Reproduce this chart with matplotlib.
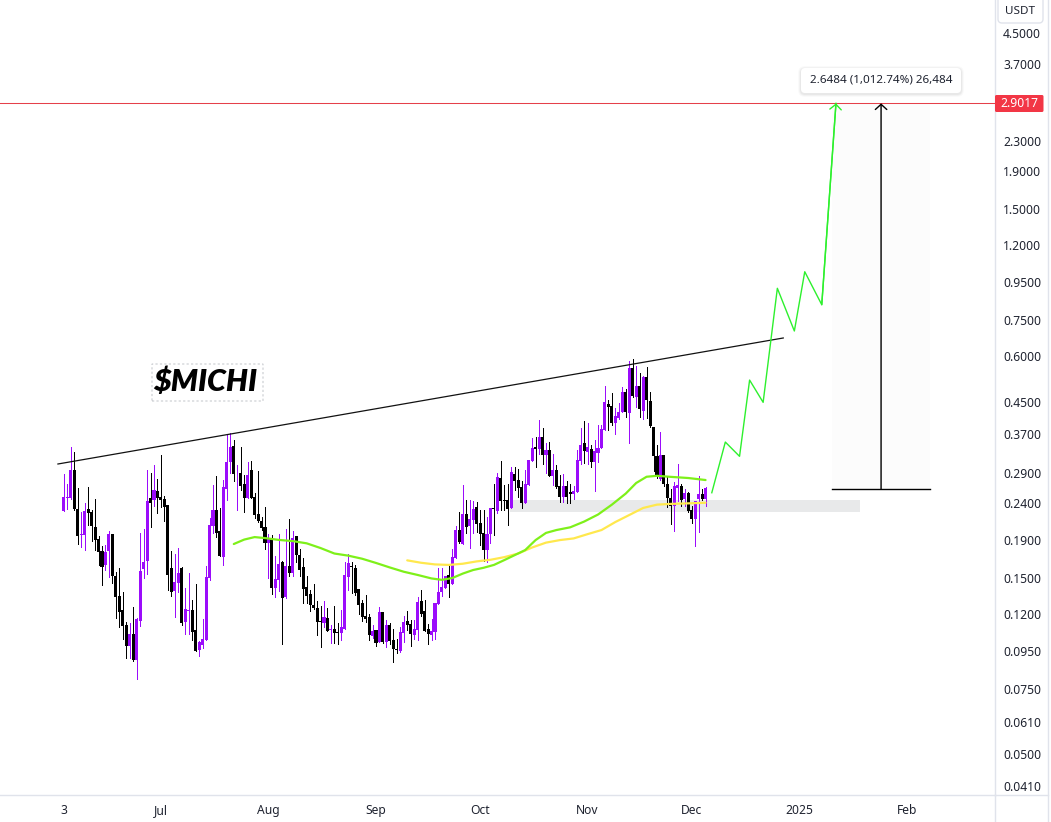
import numpy as np
import pandas as pd
import matplotlib
matplotlib.use("Agg")
import matplotlib.pyplot as plt
from matplotlib.lines import Line2D
from matplotlib.patches import FancyBboxPatch, Rectangle
from matplotlib.ticker import NullLocator

plt.rcParams['font.family'] = ['Noto Sans', 'DejaVu Sans']

W, H = 1051, 822

# daily candles, first one is 3 Jun 2024
start = pd.Timestamp("2024-06-03")

opens = [
    .2285, .2475, .2475, .2946, .2306, .1964, .1964, .2310, .2263, .2065,
    .1911, .1777, .1630, .1780, .1975, .1521, .1343, .1230, .1121, .0983,
    .1060, .0900, .1151, .1589, .1670, .2475, .2443, .2584, .2485, .2459,
    .2368, .1599, .1385, .1456, .1599, .1142, .1225, .1230, .1086, .0958,
    .0989, .1022, .1502, .2082, .2295, .2014, .1714, .2622, .3097, .3423,
    .2887, .2892, .2702, .2475, .2946, .2491, .2239, .2143, .2061, .1868,
    .1915, .1414, .1486, .1660, .1337, .1619, .1550, .1951, .1733, .1609,
    .1420, .1359, .1270, .1246, .1149, .1135, .1171, .1084, .1093, .1073,
    .1066, .1093, .1512, .1619, .1599, .1401, .1285, .1186, .1178, .1048,
    .1086, .1009, .1215, .1008, .1121, .1020, .0964, .0952, .1068, .1149,
    .1128, .1053, .1086, .1301, .1223, .1093, .1053, .1073, .1277, .1376,
    .1411, .1531, .1447, .1702, .2026, .1857, .2239, .2078, .2156, .2340,
    .2117, .1990, .1788, .1975, .2325, .2281, .2802, .2443, .2443, .2325,
    .2874, .2768, .2651, .2398, .2690, .3121, .3401, .3358, .3620, .3230,
    .3337, .2838, .2946, .2668, .2491, .2668, .2568, .2536, .2568, .3116,
    .3486, .3297, .3358, .3097, .3277, .3380, .3780, .4446, .4390, .3943,
    .4075, .4230, .4793, .4212, .5563, .4652, .4974, .4264, .5253, .4530,
    .3853, .3216, .2791, .3230, .2702, .2475, .2353, .2634, .2668, .2459,
    .2552, .2295, .2170, .2459, .2536, .2459,
]
closes = [
    .2485, .2491, .2946, .2306, .1955, .1972, .2281, .2257, .2078, .1903,
    .1769, .1613, .1766, .1975, .1524, .1337, .1217, .1114, .0983, .1060,
    .0900, .1163, .1569, .1660, .2428, .2398, .2600, .2480, .2443, .2340,
    .1531, .1376, .1462, .1550, .1137, .1238, .1232, .1075, .0952, .1009,
    .1025, .1512, .2091, .2295, .1994, .1722, .2651, .3103, .3401, .2874,
    .2892, .2673, .2475, .2856, .2480, .2229, .2147, .2056, .1868, .1931,
    .1414, .1490, .1640, .1328, .1619, .1547, .1927, .1733, .1579, .1405,
    .1343, .1270, .1246, .1144, .1142, .1178, .1081, .1093, .1066, .1066,
    .1107, .1531, .1650, .1606, .1368, .1270, .1178, .1165, .1055, .1079,
    .1003, .1215, .1008, .1121, .1014, .0964, .0958, .1073, .1142, .1121,
    .1060, .1093, .1293, .1200, .1079, .1060, .1079, .1285, .1376, .1420,
    .1521, .1447, .1713, .2026, .1877, .2239, .2065, .2170, .2310, .2104,
    .1975, .1788, .1975, .2325, .2306, .2816, .2432, .2428, .2315, .2910,
    .2751, .2634, .2398, .2702, .3135, .3380, .3358, .3620, .3236, .3337,
    .2838, .2946, .2651, .2491, .2668, .2491, .2536, .2584, .3135, .3444,
    .3317, .3401, .3097, .3317, .3380, .3804, .4502, .4356, .3951, .4127,
    .4230, .4793, .4230, .5563, .4674, .4974, .4310, .5273, .4558, .3878,
    .3216, .2838, .3230, .2702, .2475, .2353, .2668, .2684, .2443, .2552,
    .2281, .2170, .2428, .2536, .2459, .2634,
]
highs = [
    .2874, .2702, .3391, .3291, .2629, .2263, .2393, .2646, .2295, .2454,
    .1947, .1834, .1845, .2010, .1975, .1563, .1596, .1374, .1140, .1133,
    .1254, .1169, .1988, .2035, .2946, .2892, .3040, .2781, .3236, .2507,
    .2368, .1777, .1744, .1811, .1609, .1408, .1550, .1307, .1447, .1014,
    .1163, .1619, .2184, .2684, .2838, .2320, .2768, .3688, .3704, .3552,
    .3040, .3401, .2856, .3097, .3116, .2547, .2928, .2194, .2336, .1975,
    .1964, .1722, .1975, .1667, .2039, .2170, .2010, .1958, .1796, .1702,
    .1521, .1393, .1447, .1301, .1262, .1301, .1246, .1119, .1262, .1135,
    .1230, .1660, .1744, .1660, .1630, .1401, .1309, .1351, .1200, .1121,
    .1086, .1254, .1215, .1156, .1137, .1093, .1027, .1109, .1186, .1223,
    .1156, .1156, .1334, .1390, .1309, .1128, .1163, .1285, .1599, .1599,
    .1521, .1640, .1799, .2078, .2267, .2684, .2443, .2443, .2428, .2413,
    .2295, .2295, .2198, .2325, .2702, .2887, .3116, .2684, .2695, .2994,
    .2994, .2959, .2756, .2946, .3135, .3590, .3612, .4023, .3826, .3486,
    .3508, .3257, .3040, .2856, .2874, .2751, .2702, .2668, .3337, .3826,
    .3999, .3951, .3444, .3552, .3900, .3900, .4968, .4558, .4764, .4345,
    .4474, .4954, .4882, .5814, .5884, .5637, .5386, .5296, .5590, .4800,
    .3861, .3444, .3741, .3236, .2827, .2612, .2739, .3055, .2702, .2612,
    .2568, .2353, .2432, .2838, .2612, .2651,
]
lows = [
    .2285, .2306, .2464, .2295, .1857, .1826, .1788, .2091, .1895, .1788,
    .1630, .1441, .1579, .1515, .1459, .1171, .1109, .1027, .0911, .0911,
    .0896, .0800, .1114, .1505, .1538, .2065, .2358, .2257, .2336, .2143,
    .1393, .1345, .1181, .1379, .1121, .1060, .1060, .1020, .0952, .0923,
    .0970, .1020, .1483, .1983, .1935, .1722, .1630, .2443, .2887, .2751,
    .2295, .2600, .2271, .2475, .2470, .2180, .2126, .2026, .1803, .1505,
    .1359, .1337, .1385, .0997, .1328, .1524, .1521, .1660, .1524, .1285,
    .1283, .1223, .1238, .1053, .0977, .1109, .1079, .1001, .1003, .0997,
    .1020, .1093, .1393, .1368, .1351, .1200, .1151, .1142, .1020, .1035,
    .0985, .1008, .1001, .0977, .0997, .0889, .0941, .0947, .1008, .1086,
    .0983, .1027, .1020, .1186, .1079, .0995, .1020, .1027, .1277, .1343,
    .1411, .1334, .1447, .1702, .1868, .1857, .1990, .1811, .1990, .2002,
    .1845, .1670, .1660, .1872, .1968, .2249, .2295, .2295, .2091, .2325,
    .2600, .2496, .2328, .2398, .2690, .3121, .2994, .3257, .3059, .2887,
    .2838, .2684, .2634, .2413, .2413, .2398, .2398, .2459, .2568, .3059,
    .3078, .3059, .3002, .2584, .3097, .3380, .3780, .3780, .3900, .3688,
    .4049, .4230, .4107, .3486, .4652, .4371, .4091, .4040, .4066, .3861,
    .2933, .2798, .2768, .2668, .2343, .2104, .2014, .2428, .2353, .2353,
    .2267, .2117, .1834, .2002, .2443, .2353,
]

green_days = [49, 52, 55, 58, 62, 66, 70, 74, 78, 82, 86, 90, 94, 98, 102, 106, 109, 112, 115, 118,
              121, 124, 127, 130, 133, 136, 139, 142, 146, 150, 154, 158, 162, 165, 168, 171, 175, 180, 185]
green_ma = [.1857, .1909, .1939, .1927, .1905, .1891, .1865, .1811, .1750, .1727, .1694, .1650, .1604,
            .1562, .1531, .1498, .1485, .1502, .1544, .1579, .1601, .1630, .1680, .1733, .1788, .1903,
            .1990, .2026, .2061, .2136, .2232, .2374, .2544, .2717, .2825, .2842, .2823, .2803, .2768]
yellow_days = [99, 103, 107, 111, 115, 119, 123, 127, 131, 135, 139, 143, 147, 151, 155, 159, 163, 167, 171, 175, 180, 185]
yellow_ma = [.1677, .1652, .1635, .1630, .1642, .1666, .1683, .1711, .1750, .1817, .1873, .1903, .1923,
             .1975, .2026, .2130, .2225, .2325, .2374, .2385, .2393, .2402]

# hand drawn projection
path_days = [186.8, 190.7, 194.8, 197.7, 201.6, 205.7, 210.6, 213.6, 218.5, 222.6]
path_vals = [.2557, .3508, .3209, .5163, .4494, .9154, .7013, 1.015, .8263, 2.9017]

trend_days = [-1.7, 207.4]
trend_vals = [.3059, .6714]

zone_days = [128.7, 229.6]
zone_vals = [.2267, .2443]

range_day = 235.6
range_box_days = [221.5, 249.8]
range_from = .2612
last_price = 2.9017

price_ticks = [4.5, 3.7, 2.3, 1.9, 1.5, 1.2, .95, .75, .6, .45, .37, .29, .24, .19, .15, .12, .095, .075, .061, .05, .041]
price_labels = ["%.4f" % p for p in price_ticks]
month_dates = ["2024-06-03", "2024-07-01", "2024-08-01", "2024-09-01", "2024-10-01", "2024-11-01", "2024-12-01", "2025-01-01", "2025-02-01"]
month_labels = ["3", "Jul", "Aug", "Sep", "Oct", "Nov", "Dec", "2025", "Feb"]

purple = "#9b0cfb"
black = "#000000"
border = "#e0e3eb"
text_col = "#1f2330"

opens = np.array(opens)
closes = np.array(closes)
highs = np.array(highs)
lows = np.array(lows)
days = np.arange(len(opens))
colors = [purple if c > o else black for o, c in zip(opens, closes)]

fig = plt.figure(figsize=(W / 100, H / 100), dpi=100)
ax = fig.add_axes([0, 1 - 795 / H, 994.5 / W, 795 / H])
ax.set_yscale("log")
ax.set_xlim(-18.4, 268.3)
ax.set_ylim(0.0388, 5.529)

# zone and measure box go under everything
ax.add_patch(Rectangle((zone_days[0], zone_vals[0]), zone_days[1] - zone_days[0], zone_vals[1] - zone_vals[0],
                       color="#e8e9ea", lw=0, zorder=1))
ax.add_patch(Rectangle((range_box_days[0], range_from), range_box_days[1] - range_box_days[0], last_price - range_from,
                       color="#fcfcfc", lw=0, zorder=1))

# candles
ax.vlines(days, lows, highs, colors=colors, linewidth=0.72, antialiased=False, zorder=3)
ax.bar(days, np.abs(closes - opens), bottom=np.minimum(opens, closes), width=0.88, color=colors,
       antialiased=False, linewidth=0, zorder=3)

ax.plot(yellow_days, yellow_ma, color="#ffe84d", lw=1.6, zorder=4, solid_capstyle="round")
ax.plot(green_days, green_ma, color="#7ef01a", lw=1.6, zorder=4, solid_capstyle="round")

ax.plot(trend_days, trend_vals, color="#111111", lw=0.9, zorder=5)
ax.axhline(last_price, color="#e5404a", lw=0.75, zorder=5)

# projection with open arrow head
arrow_style = "->,head_length=0.5,head_width=0.55"
ax.plot(path_days, path_vals, color="#2df02d", lw=1.0, zorder=6)
ax.annotate("", xy=(path_days[-1], path_vals[-1]), xytext=(path_days[-2], path_vals[-2]),
            arrowprops=dict(arrowstyle=arrow_style, color="#2df02d", lw=1.0, shrinkA=0, shrinkB=0, mutation_scale=7.5), zorder=6)

# price range tool
ax.plot(range_box_days, [range_from, range_from], color="black", lw=1.0, zorder=6)
ax.annotate("", xy=(range_day, last_price), xytext=(range_day, range_from),
            arrowprops=dict(arrowstyle=arrow_style, color="black", lw=1.0, shrinkA=0, shrinkB=0, mutation_scale=7.5), zorder=6)

# axes
for s in ["left", "top"]:
    ax.spines[s].set_visible(False)
for s in ["right", "bottom"]:
    ax.spines[s].set_color(border)
    ax.spines[s].set_linewidth(1.0)
ax.yaxis.tick_right()
ax.yaxis.set_minor_locator(NullLocator())
ax.set_yticks(price_ticks)
ax.set_yticklabels(price_labels, fontsize=8.7, color=text_col)
ax.tick_params(axis="y", length=0, pad=6.2)
month_pos = [(pd.Timestamp(d) - start).days for d in month_dates]
ax.set_xticks(month_pos)
ax.set_xticklabels(month_labels, fontsize=8.7, color=text_col)
ax.tick_params(axis="x", length=0, pad=6.5)
ax.get_xticklabels()[7].set_fontweight("semibold")


def fx(x):
    return x / W


def fy(y):
    return 1 - y / H


# outer frame of the price scale
fig.add_artist(Line2D([fx(1047.5), fx(1047.5)], [0, 1], color=border, lw=1.0))
fig.add_artist(Line2D([fx(994.5), fx(1047.5)], [fy(795), fy(795)], color=border, lw=1.0))
fig.add_artist(Line2D([fx(994.5), fx(994.5)], [0, fy(795)], color=border, lw=1.0))


def round_box(x0, y0, x1, y1, face, edge, rad=3, **kw):
    # box given in pixels
    box = FancyBboxPatch((x0, H - y1), x1 - x0, y1 - y0, boxstyle="round,pad=0,rounding_size=%s" % rad,
                         facecolor=face, edgecolor=edge, transform=None, **kw)
    fig.add_artist(box)


round_box(998, -6, 1043, 23, "white", border, rad=4, lw=1.0)
fig.text(fx(1020.5), fy(11.5), "USDT", fontsize=8.4, color=text_col, ha="center", va="center")

round_box(995, 95, 1043.5, 112, "#f23645", "none", rad=1.5)
fig.text(fx(1019.5), fy(103.5), "2.9017", fontsize=8.7, color="white", fontweight="bold", ha="center", va="center")

# tooltip of the range tool
for i, a in zip([3, 2, 1], [.02, .03, .04]):
    round_box(801 - i, 68 - i + 1, 961 + i, 93 + i + 1, "black", "none", rad=4 + i, alpha=a)
round_box(801, 68, 961, 93, "white", "none", rad=4)
fig.text(fx(881), fy(80.5), "2.6484 (1,012.74%) 26,484", fontsize=8.4, color=text_col, ha="center", va="center")

# ticker note
round_box(152, 364, 263, 401, "none", "#c9cbd0", rad=0, lw=0.8, ls=(0, (2, 2)))
fig.text(fx(205), fy(382), "$MICHI", fontsize=22, family="Lato", fontweight="heavy", style="italic",
         color="black", ha="center", va="center")

fig.savefig("out.png", dpi=100)
